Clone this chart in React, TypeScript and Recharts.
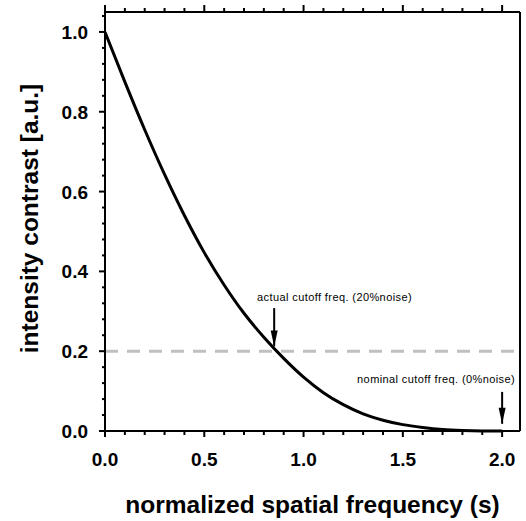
import React from "react";
import { LineChart, Line, XAxis, YAxis, ReferenceLine, ReferenceDot } from "recharts";

// curve: normalized spatial frequency vs intensity contrast
const FREQ = [0, 0.1, 0.2, 0.3, 0.4, 0.5, 0.6, 0.7, 0.8, 0.9, 1.0, 1.1, 1.2, 1.3, 1.4, 1.5, 1.6, 1.7, 1.8, 1.9, 2.0];
const CONTRAST = [1.0, 0.875, 0.755, 0.643, 0.54, 0.447, 0.366, 0.295, 0.235, 0.182, 0.135, 0.096, 0.066, 0.043, 0.027, 0.016, 0.009, 0.004, 0.0015, 0.0003, 0];

const X_TICKS = [0, 0.1, 0.2, 0.3, 0.4, 0.5, 0.6, 0.7, 0.8, 0.9, 1.0, 1.1, 1.2, 1.3, 1.4, 1.5, 1.6, 1.7, 1.8, 1.9, 2.0];
const Y_TICKS = [0, 0.04, 0.08, 0.12, 0.16, 0.2, 0.24, 0.28, 0.32, 0.36, 0.4, 0.44, 0.48, 0.52, 0.56, 0.6, 0.64, 0.68, 0.72, 0.76, 0.8, 0.84, 0.88, 0.92, 0.96, 1.0, 1.04];
const X_DOMAIN = [0, 2.09];
const Y_DOMAIN = [0, 1.05];

const NOISE_LEVEL = 0.2;

// annotation arrows (x, tail, tip) and their notes
const ARROW_X = [0.852, 2.0];
const ARROW_TAIL = [0.308, 0.098];
const ARROW_TIP = [0.212, 0.018];
const NOTE_TEXT = ["actual cutoff freq. (20%noise)", "nominal cutoff freq. (0%noise)"];
const NOTE_X = [0.766, 2.065];
const NOTE_Y = [0.326, 0.12];
const NOTE_ANCHOR = ["start", "end"];

const data = FREQ.map((s, i) => ({ s, c: CONTRAST[i] }));

const FONT = '"Liberation Sans", Arial, sans-serif';
const tickFont = { fontFamily: FONT, fontSize: 19, fontWeight: 700, fill: "#000" };
const titleFont = { fontFamily: FONT, fontSize: 24.5, fontWeight: 700, fill: "#000" };
const noteFont = { fontFamily: FONT, fontSize: 11, fill: "#000", letterSpacing: 0.4 };

const isMajor = (v: number, step: number) => Math.abs(v / step - Math.round(v / step)) < 1e-6;

function BottomTick({ x, y, payload }: any) {
  const major = isMajor(payload.value, 0.5);
  return (
    <g>
      <line x1={x} x2={x} y1={y} y2={y + (major ? 6 : 4)} stroke="#000" strokeWidth={2} />
      {major && (
        <text x={x} y={y + 35} textAnchor="middle" style={tickFont}>
          {payload.value.toFixed(1)}
        </text>
      )}
    </g>
  );
}

function TopTick({ x, y, payload }: any) {
  const major = isMajor(payload.value, 0.5);
  return <line x1={x} x2={x} y1={y} y2={y - (major ? 7 : 4)} stroke="#000" strokeWidth={2} />;
}

function LeftTick({ x, y, payload }: any) {
  const major = isMajor(payload.value, 0.2);
  return (
    <g>
      <line x1={x} x2={x - (major ? 6 : 3)} y1={y} y2={y} stroke="#000" strokeWidth={2} />
      {major && (
        <text x={x - 17} y={y + 7} textAnchor="end" style={tickFont}>
          {payload.value.toFixed(1)}
        </text>
      )}
    </g>
  );
}

function RightTick({ x, y, payload }: any) {
  const major = isMajor(payload.value, 0.2);
  return <line x1={x} x2={x + (major ? 6 : 3)} y1={y} y2={y} stroke="#000" strokeWidth={2} />;
}

const ArrowHead = ({ cx, cy }: any) => (
  <polygon points={`${cx - 3.5},${cy - 16} ${cx + 3.5},${cy - 16} ${cx},${cy}`} fill="#000" />
);

const axisLine = { stroke: "#000", strokeWidth: 2 };

export default function App() {
  return (
    <div style={{ position: "absolute", left: 0, top: 0, background: "#fff" }}>
      <LineChart width={526} height={521} data={data} margin={{ top: 0, right: 0, bottom: 0, left: 0 }}>
        <XAxis
          xAxisId="bottom"
          dataKey="s"
          type="number"
          domain={X_DOMAIN}
          ticks={X_TICKS}
          interval={0}
          height={90}
          tickSize={0}
          tickMargin={0}
          tickLine={false}
          axisLine={axisLine}
          tick={<BottomTick />}
          label={({ viewBox }: any) => (
            <text x={viewBox.x + viewBox.width / 2} y={viewBox.y + 82} textAnchor="middle" style={titleFont}>
              normalized spatial frequency (s)
            </text>
          )}
        />
        <XAxis
          xAxisId="top"
          orientation="top"
          dataKey="s"
          type="number"
          domain={X_DOMAIN}
          ticks={X_TICKS}
          interval={0}
          height={12}
          tickSize={0}
          tickMargin={0}
          tickLine={false}
          axisLine={axisLine}
          tick={<TopTick />}
        />
        <YAxis
          yAxisId="left"
          type="number"
          domain={Y_DOMAIN}
          ticks={Y_TICKS}
          interval={0}
          width={105}
          tickSize={0}
          tickMargin={0}
          tickLine={false}
          axisLine={axisLine}
          tick={<LeftTick />}
          label={({ viewBox }: any) => {
            const cx = viewBox.x + 29;
            const cy = viewBox.y + viewBox.height / 2 - 3;
            return (
              <text x={cx} y={cy} transform={`rotate(-90 ${cx} ${cy})`} textAnchor="middle" dominantBaseline="central" style={titleFont}>
                intensity contrast [a.u.]
              </text>
            );
          }}
        />
        <YAxis
          yAxisId="right"
          orientation="right"
          type="number"
          domain={Y_DOMAIN}
          ticks={Y_TICKS}
          interval={0}
          width={6}
          tickSize={0}
          tickMargin={0}
          tickLine={false}
          axisLine={axisLine}
          tick={<RightTick />}
        />
        <ReferenceLine
          xAxisId="bottom"
          yAxisId="left"
          y={NOISE_LEVEL}
          stroke="#c0c0c0"
          strokeWidth={3}
          strokeDasharray="13 9"
        />
        <Line
          xAxisId="bottom"
          yAxisId="left"
          dataKey="c"
          type="monotone"
          stroke="#000"
          strokeWidth={3}
          dot={false}
          activeDot={false}
          isAnimationActive={false}
        />
        {ARROW_X.map((ax, i) => (
          <ReferenceLine
            key={`shaft-${i}`}
            xAxisId="bottom"
            yAxisId="left"
            segment={[{ x: ax, y: ARROW_TAIL[i] }, { x: ax, y: ARROW_TIP[i] }]}
            stroke="#000"
            strokeWidth={2}
          />
        ))}
        {ARROW_X.map((ax, i) => (
          <ReferenceDot key={`head-${i}`} xAxisId="bottom" yAxisId="left" x={ax} y={ARROW_TIP[i]} shape={ArrowHead} />
        ))}
        {NOTE_TEXT.map((t, i) => (
          <ReferenceDot
            key={`note-${i}`}
            xAxisId="bottom"
            yAxisId="left"
            x={NOTE_X[i]}
            y={NOTE_Y[i]}
            shape={({ cx, cy }: any) => (
              <text x={cx} y={cy} textAnchor={NOTE_ANCHOR[i]} style={noteFont}>
                {t}
              </text>
            )}
          />
        ))}
      </LineChart>
    </div>
  );
}
